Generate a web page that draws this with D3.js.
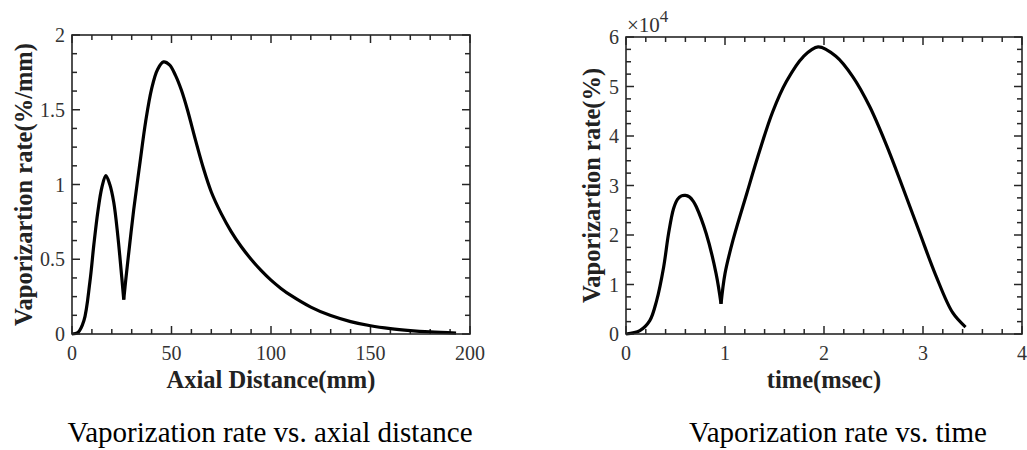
<!DOCTYPE html>
<html><head><meta charset="utf-8">
<script src="https://cdn.jsdelivr.net/npm/d3@7"></script>
<style>
body{margin:0;background:#fff;}
</style></head>
<body>
<svg id="c" width="1027" height="450"></svg>
<script>
// Left chart: vaporization rate vs axial distance
const axialX = [0,3,6,9,11,13,15,17,19,21,23,25,26,27,29,31,34,37,40,43,46,49,52,55,58,62,66,70,75,80,85,90,95,100,105,110,120,130,140,150,160,170,180,193];
const axialY = [0,0.01,0.09,0.35,0.6,0.82,0.98,1.06,1.0,0.88,0.66,0.38,0.23,0.36,0.6,0.83,1.13,1.42,1.64,1.77,1.82,1.80,1.73,1.63,1.50,1.30,1.11,0.95,0.805,0.685,0.585,0.50,0.425,0.36,0.305,0.258,0.18,0.123,0.083,0.055,0.036,0.023,0.014,0.006];
const axialXTicks = [0,50,100,150,200];
const axialYTicks = [0,0.5,1,1.5,2];

// Right chart: vaporization rate vs time
const timeX = [0,0.14,0.24,0.31,0.38,0.43,0.48,0.52,0.56,0.6,0.64,0.68,0.71,0.81,0.91,0.96,1.0,1.08,1.22,1.35,1.48,1.62,1.79,1.94,2.12,2.29,2.46,2.63,2.79,2.96,3.13,3.3,3.43];
const timeY = [0,700,2700,6800,13500,20300,25300,27200,27900,28000,27700,26800,25700,20300,12200,6100,12200,18900,28400,37000,44800,51000,56000,58000,56100,52000,46000,38200,29900,20800,11800,4300,1400];
const timeXTicks = [0,1,2,3,4];
const timeYTicks = [0,10000,20000,30000,40000,50000,60000];

const FONT = "'Liberation Serif','Tinos','Times New Roman','DejaVu Serif',serif";
const svg = d3.select("#c").attr("font-family", FONT);
const axisColor = "#262626";
const labelColor = "#333";

function drawPanel(opt){
  const g = svg.append("g");
  const x = d3.scaleLinear().domain(opt.xDomain).range([opt.left, opt.right]);
  const y = d3.scaleLinear().domain(opt.yDomain).range([opt.bottom, opt.top]);
  const majL = 8, minL = 5;
  const xMinor = d3.range(opt.xDomain[0], opt.xDomain[1] + 1e-9, opt.xMinor);
  const yMinor = d3.range(opt.yDomain[0], opt.yDomain[1] + 1e-9, opt.yMinor);
  const tk = g.append("g").attr("stroke", axisColor).attr("stroke-width", 1.5);
  xMinor.forEach(v=>{
    const isMaj = opt.xTicks.some(t=>Math.abs(t-v)<1e-6);
    const L = isMaj?majL:minL;
    tk.append("line").attr("x1",x(v)).attr("x2",x(v)).attr("y1",opt.bottom).attr("y2",opt.bottom-L);
    tk.append("line").attr("x1",x(v)).attr("x2",x(v)).attr("y1",opt.top).attr("y2",opt.top+L);
  });
  yMinor.forEach(v=>{
    const isMaj = opt.yTicks.some(t=>Math.abs(t-v)<1e-6);
    const L = isMaj?majL:minL;
    tk.append("line").attr("y1",y(v)).attr("y2",y(v)).attr("x1",opt.left).attr("x2",opt.left+L);
    tk.append("line").attr("y1",y(v)).attr("y2",y(v)).attr("x1",opt.right).attr("x2",opt.right-L);
  });
  // curve, split at the cusp so the dip stays sharp
  const pts = opt.xs.map((d,i)=>[d,opt.ys[i]]);
  const line = d3.line().x(d=>x(d[0])).y(d=>y(d[1])).curve(d3.curveCatmullRom.alpha(0.5));
  const c = opt.cusp;
  [pts.slice(0,c+1), pts.slice(c)].forEach(seg=>{
    g.append("path").datum(seg).attr("d", line)
      .attr("fill","none").attr("stroke","#000").attr("stroke-width",3.2)
      .attr("stroke-linejoin","round").attr("stroke-linecap","butt");
  });
  // frame
  g.append("rect").attr("x",opt.left).attr("y",opt.top)
    .attr("width",opt.right-opt.left).attr("height",opt.bottom-opt.top)
    .attr("fill","none").attr("stroke",axisColor).attr("stroke-width",1.6);
  // tick labels
  opt.xTicks.forEach(v=>{
    g.append("text").attr("x",x(v)).attr("y",opt.bottom+26).attr("text-anchor","middle")
      .attr("font-size",20).attr("fill",labelColor).text(opt.xFmt(v));
  });
  opt.yTicks.forEach(v=>{
    g.append("text").attr("x",opt.left-7).attr("y",y(v)+7).attr("text-anchor","end")
      .attr("font-size",20).attr("fill",labelColor).text(opt.yFmt(v));
  });
  // axis titles
  g.append("text").attr("x",(opt.left+opt.right)/2).attr("y",opt.bottom+54)
    .attr("text-anchor","middle").attr("font-size",24.5).attr("font-weight","bold").attr("fill","#222")
    .text(opt.xTitle);
  g.append("text").attr("transform",`translate(${opt.yTitleX},${(opt.top+opt.bottom)/2}) rotate(-90)`)
    .attr("text-anchor","middle").attr("font-size",24.5).attr("font-weight","bold").attr("fill","#222")
    .text(opt.yTitle);
  // caption
  g.append("text").attr("x",opt.capX).attr("y",441.5).attr("text-anchor","middle")
    .attr("font-size",29).attr("fill","#000").text(opt.caption);
  return {x,y,g};
}

drawPanel({
  left:72,right:470,top:35,bottom:334,
  xDomain:[0,200], yDomain:[0,2], xTicks:axialXTicks, yTicks:axialYTicks,
  xMinor:10, yMinor:0.125, xs:axialX, ys:axialY, cusp:12,
  xFmt:d=>String(d), yFmt:d=>String(d),
  xTitle:"Axial Distance(mm)", yTitle:"Vaporizartion rate(%/mm)", yTitleX:31.5,
  caption:"Vaporization rate vs. axial distance", capX:270
});
const p2 = drawPanel({
  left:626,right:1022,top:37,bottom:334,
  xDomain:[0,4], yDomain:[0,60000], xTicks:timeXTicks, yTicks:timeYTicks,
  xMinor:0.2, yMinor:2500, xs:timeX, ys:timeY, cusp:15,
  xFmt:d=>String(d), yFmt:d=>String(d/10000),
  xTitle:"time(msec)", yTitle:"Vaporizartion rate(%)", yTitleX:600,
  caption:"Vaporization rate vs. time", capX:838
});
const ex = p2.g.append("text").attr("x",627).attr("y",32).attr("font-size",21).attr("fill",labelColor);
ex.append("tspan").text("\u00d710");
ex.append("tspan").attr("dy",-10).attr("font-size",17).text("4");
</script>
</body></html>
